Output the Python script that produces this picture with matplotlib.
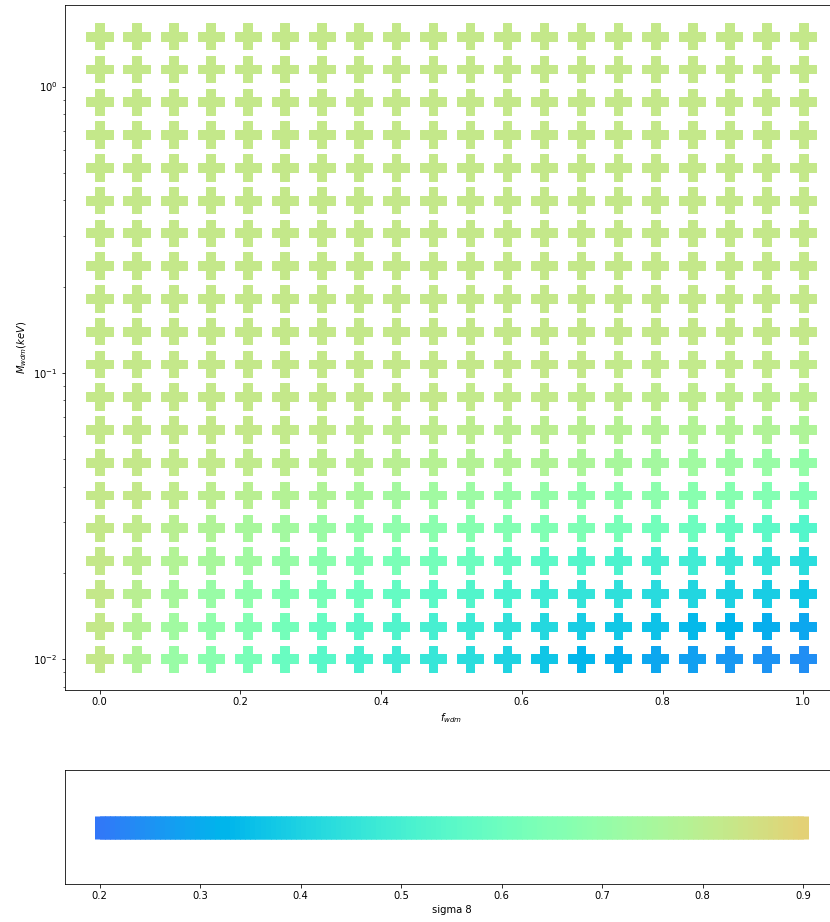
import numpy as np
import matplotlib
matplotlib.use("Agg")
import matplotlib.pyplot as plt
from matplotlib.colors import Normalize

# WDM fraction (columns) and WDM mass in keV (rows)
f_wdm = [0.0, 0.0526, 0.1053, 0.1579, 0.2105, 0.2632, 0.3158, 0.3684, 0.4211, 0.4737,
         0.5263, 0.5789, 0.6316, 0.6842, 0.7368, 0.7895, 0.8421, 0.8947, 0.9474, 1.0]
m_wdm = [0.01, 0.013017, 0.016944, 0.022056, 0.028711, 0.037373, 0.048648, 0.063325,
         0.08243, 0.1073, 0.13967, 0.18181, 0.23666, 0.30806, 0.401, 0.52198,
         0.67946, 0.88445, 1.1513, 1.5]

# sigma8 values, one row per mass (row 0 = lowest mass)
sigma8 = [
    [0.825, 0.774, 0.712, 0.672, 0.631, 0.590, 0.549, 0.508, 0.485, 0.465, 0.435, 0.405, 0.37, 0.335, 0.315, 0.298, 0.282, 0.268, 0.256, 0.245],
    [0.825, 0.784, 0.733, 0.692, 0.661, 0.621, 0.585, 0.555, 0.53, 0.505, 0.478, 0.45, 0.42, 0.39, 0.372, 0.356, 0.34, 0.325, 0.31, 0.298],
    [0.825, 0.794, 0.753, 0.716, 0.686, 0.661, 0.631, 0.605, 0.583, 0.562, 0.538, 0.512, 0.487, 0.462, 0.446, 0.431, 0.416, 0.401, 0.386, 0.371],
    [0.825, 0.804, 0.778, 0.755, 0.733, 0.706, 0.680, 0.658, 0.638, 0.62, 0.600, 0.580, 0.560, 0.540, 0.522, 0.506, 0.490, 0.472, 0.452, 0.432],
    [0.825, 0.814, 0.796, 0.776, 0.756, 0.737, 0.718, 0.702, 0.69, 0.68, 0.67, 0.66, 0.654, 0.645, 0.632, 0.617, 0.601, 0.582, 0.562, 0.542],
    [0.825, 0.823, 0.814, 0.804, 0.794, 0.784, 0.772, 0.758, 0.746, 0.735, 0.725, 0.715, 0.705, 0.694, 0.687, 0.681, 0.675, 0.668, 0.66, 0.651],
    [0.825, 0.825, 0.822, 0.818, 0.814, 0.810, 0.804, 0.800, 0.794, 0.790, 0.784, 0.778, 0.772, 0.765, 0.755, 0.745, 0.735, 0.725, 0.715, 0.705],
    [0.825, 0.825, 0.825, 0.825, 0.823, 0.820, 0.818, 0.815, 0.812, 0.810, 0.806, 0.802, 0.798, 0.794, 0.790, 0.786, 0.782, 0.778, 0.774, 0.770],
    [0.825, 0.825, 0.825, 0.825, 0.825, 0.825, 0.825, 0.825, 0.824, 0.823, 0.822, 0.820, 0.818, 0.816, 0.814, 0.812, 0.810, 0.808, 0.806, 0.804],
    [0.825, 0.825, 0.825, 0.825, 0.825, 0.825, 0.825, 0.825, 0.825, 0.825, 0.825, 0.825, 0.824, 0.823, 0.822, 0.821, 0.820, 0.819, 0.818, 0.817],
    [0.825, 0.825, 0.825, 0.825, 0.825, 0.825, 0.825, 0.825, 0.825, 0.825, 0.825, 0.825, 0.825, 0.825, 0.825, 0.825, 0.825, 0.825, 0.825, 0.825],
    [0.825, 0.825, 0.825, 0.825, 0.825, 0.825, 0.825, 0.825, 0.825, 0.825, 0.825, 0.825, 0.825, 0.825, 0.825, 0.825, 0.825, 0.825, 0.825, 0.825],
    [0.825, 0.825, 0.825, 0.825, 0.825, 0.825, 0.825, 0.825, 0.825, 0.825, 0.825, 0.825, 0.825, 0.825, 0.825, 0.825, 0.825, 0.825, 0.825, 0.825],
    [0.825, 0.825, 0.825, 0.825, 0.825, 0.825, 0.825, 0.825, 0.825, 0.825, 0.825, 0.825, 0.825, 0.825, 0.825, 0.825, 0.825, 0.825, 0.825, 0.825],
    [0.825, 0.825, 0.825, 0.825, 0.825, 0.825, 0.825, 0.825, 0.825, 0.825, 0.825, 0.825, 0.825, 0.825, 0.825, 0.825, 0.825, 0.825, 0.825, 0.825],
    [0.825, 0.825, 0.825, 0.825, 0.825, 0.825, 0.825, 0.825, 0.825, 0.825, 0.825, 0.825, 0.825, 0.825, 0.825, 0.825, 0.825, 0.825, 0.825, 0.825],
    [0.825, 0.825, 0.825, 0.825, 0.825, 0.825, 0.825, 0.825, 0.825, 0.825, 0.825, 0.825, 0.825, 0.825, 0.825, 0.825, 0.825, 0.825, 0.825, 0.825],
    [0.825, 0.825, 0.825, 0.825, 0.825, 0.825, 0.825, 0.825, 0.825, 0.825, 0.825, 0.825, 0.825, 0.825, 0.825, 0.825, 0.825, 0.825, 0.825, 0.825],
    [0.825, 0.825, 0.825, 0.825, 0.825, 0.825, 0.825, 0.825, 0.825, 0.825, 0.825, 0.825, 0.825, 0.825, 0.825, 0.825, 0.825, 0.825, 0.825, 0.825],
    [0.825, 0.825, 0.825, 0.825, 0.825, 0.825, 0.825, 0.825, 0.825, 0.825, 0.825, 0.825, 0.825, 0.825, 0.825, 0.825, 0.825, 0.825, 0.825, 0.825],
]

# colour key range shown in the lower panel
key_min, key_max = 0.2, 0.9
key_values = np.linspace(key_min, key_max, 141)

cmap = plt.get_cmap("rainbow")
norm = Normalize(vmin=0.0, vmax=1.3)

F, M = np.meshgrid(f_wdm, m_wdm)
S = np.array(sigma8)

DPI = 72
W, H = 830.0, 922.0
fig = plt.figure(figsize=(W / DPI, H / DPI), dpi=DPI)
ax = fig.add_axes([64.5 / W, 1 - 690 / H, (838.4 - 64.5) / W, (690 - 5) / H])
ax.scatter(F.ravel(), M.ravel(), c=S.ravel(), cmap=cmap, norm=norm,
           marker="P", s=700)
ax.set_yscale("log")
ax.set_xlabel("$f_{wdm}$")
ax.set_ylabel("$M_{wdm}(keV)$")

ax2 = fig.add_axes([64.5 / W, 1 - 884.3 / H, (838.4 - 64.5) / W, (884.3 - 770) / H])
ax2.scatter(key_values, np.zeros_like(key_values), c=key_values, cmap=cmap,
            norm=norm, marker="|", s=529, linewidths=11)
ax2.set_yticks([])
ax2.set_xlabel("sigma 8")

fig.savefig("out.png", dpi=DPI)
